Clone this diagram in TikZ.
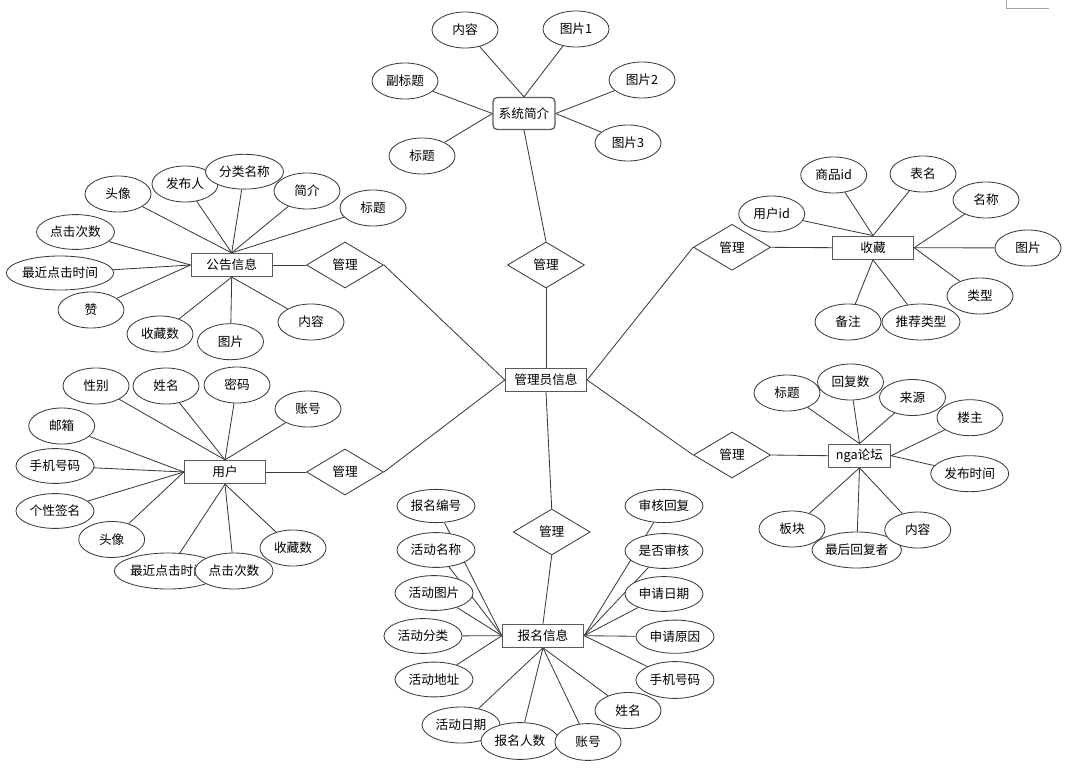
\documentclass[tikz,border=0pt]{standalone}
\usepackage{fontspec}
\usepackage{xcolor}
\usepackage{tikz}
\usetikzlibrary{shapes.geometric, backgrounds}
\newfontfamily\cjk{Noto Sans CJK SC}
\definecolor{linegray}{RGB}{60, 60, 60}
\definecolor{boxgray}{RGB}{90, 90, 90}
\definecolor{cropgray}{RGB}{165, 165, 165}
\tikzstyle{entity} = [
    rectangle,
    minimum width=2.025cm,
    minimum height=0.575cm,
    inner sep=1pt,
    draw=boxgray,
    line width=0.9pt,
    fill=white
]
\tikzstyle{attr} = [
    ellipse,
    minimum width=1.65cm,
    minimum height=0.9cm,
    inner sep=0pt,
    draw=linegray,
    line width=0.6pt,
    fill=white
]
\tikzstyle{attrwide} = [attr, minimum width=1.95cm, minimum height=0.87cm]
\tikzstyle{relation} = [
    diamond,
    minimum width=1.925cm,
    minimum height=1.15cm,
    inner sep=0pt,
    draw=linegray,
    line width=0.6pt,
    fill=white
]
\tikzstyle{link} = [draw=linegray, line width=0.6pt]

\begin{document}
\begin{tikzpicture}[x=0.025cm, y=-0.025cm, font=\cjk\fontsize{9}{11}\selectfont]
    \useasboundingbox (0,0) rectangle (1079,768);
    \draw[cropgray, line width=0.6pt] (1006,0) -- (1006,8.5) -- (1049,8.5);

    % Entities
    \node[entity] (admin) at (546,380) {管理员信息};
    \node[entity, rounded corners=3pt, minimum width=1.55cm, minimum height=0.8cm] (intro) at (524,113.5) {系统简介};
    \node[entity] (notice) at (231.7,265) {公告信息};
    \node[entity] (user) at (225,472) {用户};
    \node[entity] (fav) at (873,247.7) {收藏};
    \node[entity, minimum width=1.55cm] (forum) at (859.5,455.7) {nga论坛};
    \node[entity] (signup) at (543,635.7) {报名信息};

    % Relations
    \node[relation] (mgIntro) at (546,265) {管理};
    \node[relation] (mgNotice) at (345,265) {管理};
    \node[relation] (mgUser) at (345,472) {管理};
    \node[relation] (mgFav) at (732,247.3) {管理};
    \node[relation] (mgForum) at (732,455) {管理};
    \node[relation] (mgSignup) at (551.7,532) {管理};

    % Attributes: system intro
    \node[attr] (inContent) at (465,30) {内容};
    \node[attr] (inPic1) at (576,29) {图片1};
    \node[attr] (inSub) at (405,81) {副标题};
    \node[attr] (inPic2) at (642,80) {图片2};
    \node[attr] (inTitle) at (422,156) {标题};
    \node[attr] (inPic3) at (628,143) {图片3};

    % Attributes: notice
    \node[attr] (ntAvatar) at (118,194) {头像};
    \node[attr] (ntAuthor) at (185,184) {发布人};
    \node[attrwide] (ntCat) at (244.5,171.7) {分类名称};
    \node[attr] (ntBrief) at (307,191) {简介};
    \node[attr] (ntTitle) at (373,208) {标题};
    \node[attrwide] (ntClicks) at (75.5,232) {点击次数};
    \node[attr, minimum width=2.55cm, minimum height=0.85cm] (ntLast) at (60,273) {最近点击时间};
    \node[attr] (ntLike) at (91,310) {赞};
    \node[attr] (ntFavs) at (160,334) {收藏数};
    \node[attr] (ntPic) at (230.5,341.7) {图片};
    \node[attr] (ntContent) at (311,322) {内容};

    % Attributes: user
    \node[attr] (usSex) at (96,386) {性别};
    \node[attr] (usName) at (166,386) {姓名};
    \node[attr] (usPwd) at (237,385) {密码};
    \node[attr] (usAcc) at (308,409) {账号};
    \node[attr] (usMail) at (61.7,426) {邮箱};
    \node[attrwide] (usPhone) at (55,466) {手机号码};
    \node[attrwide] (usSign) at (55,511) {个性签名};
    \node[attr] (usAvatar) at (111.7,539.5) {头像};
    \node[attr, minimum width=2.55cm] (usLast) at (168,571) {最近点击时间};
    \node[attrwide, minimum height=0.9cm] (usClicks) at (234,571) {点击次数};
    \node[attr] (usFavs) at (293,548) {收藏数};

    % Attributes: favourites
    \node[attr] (fvUser) at (771.7,214) {用户id};
    \node[attr] (fvGoods) at (833.7,175) {商品id};
    \node[attr] (fvTable) at (923,174) {表名};
    \node[attr] (fvName) at (986,200) {名称};
    \node[attr] (fvPic) at (1028,248) {图片};
    \node[attr] (fvType) at (980,296) {类型};
    \node[attr] (fvNote) at (848,322) {备注};
    \node[attrwide, minimum height=0.9cm] (fvRec) at (921,322) {推荐类型};

    % Attributes: forum
    \node[attr] (fmTitle) at (787,393) {标题};
    \node[attr] (fmReplies) at (850.5,382) {回复数};
    \node[attr] (fmSource) at (912.5,397.5) {来源};
    \node[attr] (fmOwner) at (970,417.7) {楼主};
    \node[attrwide, minimum height=0.9cm] (fmTime) at (969.7,473.7) {发布时间};
    \node[attr] (fmBoard) at (792,529) {板块};
    \node[attr, minimum width=2.225cm] (fmLast) at (856.7,550) {最后回复者};
    \node[attr] (fmContent) at (917.7,530) {内容};

    % Attributes: sign-up
    \node[attrwide, minimum height=0.83cm] (suNo) at (436,506) {报名编号};
    \node[attrwide] (suName) at (436,550) {活动名称};
    \node[attrwide] (suPic) at (434,593) {活动图片};
    \node[attrwide] (suCat) at (423,636) {活动分类};
    \node[attrwide] (suAddr) at (434,679.5) {活动地址};
    \node[attrwide, minimum height=0.9cm] (suDate) at (461,725) {活动日期};
    \node[attrwide, minimum height=0.92cm] (suCount) at (520,741) {报名人数};
    \node[attr, minimum height=0.92cm] (suAcc) at (588,742) {账号};
    \node[attr] (suPerson) at (628,710.5) {姓名};
    \node[attrwide, minimum height=0.83cm] (suReply) at (664,506) {审核回复};
    \node[attrwide] (suChecked) at (664,551) {是否审核};
    \node[attrwide] (suApply) at (664,594) {申请日期};
    \node[attrwide, minimum height=0.83cm] (suReason) at (675,636.7) {申请原因};
    \node[attrwide, minimum height=0.92cm] (suPhone) at (675,680) {手机号码};

    % Lines
    \begin{scope}[on background layer]
        \draw[link] (admin.north) -- (mgIntro.south);
        \draw[link] (mgIntro.north) -- (intro.south);
        \draw[link] (admin.west) -- (mgNotice.east);
        \draw[link] (mgNotice.west) -- (notice.east);
        \draw[link] (admin.west) -- (mgUser.east);
        \draw[link] (mgUser.west) -- (user.east);
        \draw[link] (admin.east) -- (mgFav.west);
        \draw[link] (mgFav.east) -- (fav.west);
        \draw[link] (admin.east) -- (mgForum.west);
        \draw[link] (mgForum.east) -- (forum.west);
        \draw[link] (admin.south) -- (mgSignup.north);
        \draw[link] (mgSignup.south) -- (signup.north);

        \draw[link] (inContent) -- (intro.north);
        \draw[link] (inPic1) -- (intro.north);
        \draw[link] (inSub) -- (intro.west);
        \draw[link] (inTitle) -- (intro.west);
        \draw[link] (inPic2) -- (intro.east);
        \draw[link] (inPic3) -- (intro.east);

        \draw[link] (ntAvatar) -- (notice.north);
        \draw[link] (ntAuthor) -- (notice.north);
        \draw[link] (ntCat) -- (notice.north);
        \draw[link] (ntBrief) -- (notice.north);
        \draw[link] (ntTitle) -- (notice.north);
        \draw[link] (ntClicks) -- (notice.west);
        \draw[link] (ntLast) -- (notice.west);
        \draw[link] (ntLike) -- (notice.west);
        \draw[link] (ntFavs) -- (notice.south);
        \draw[link] (ntPic) -- (notice.south);
        \draw[link] (ntContent) -- (notice.south);

        \draw[link] (usSex) -- (user.north);
        \draw[link] (usName) -- (user.north);
        \draw[link] (usPwd) -- (user.north);
        \draw[link] (usAcc) -- (user.north);
        \draw[link] (usMail) -- (user.west);
        \draw[link] (usPhone) -- (user.west);
        \draw[link] (usSign) -- (user.west);
        \draw[link] (usAvatar) -- (user.west);
        \draw[link] (usLast) -- (user.south);
        \draw[link] (usClicks) -- (user.south);
        \draw[link] (usFavs) -- (user.south);

        \draw[link] (fvUser) -- (fav.north);
        \draw[link] (fvGoods) -- (fav.north);
        \draw[link] (fvTable) -- (fav.north);
        \draw[link] (fvName) -- (fav.east);
        \draw[link] (fvPic) -- (fav.east);
        \draw[link] (fvType) -- (fav.east);
        \draw[link] (fvNote) -- (fav.south);
        \draw[link] (fvRec) -- (fav.south);

        \draw[link] (fmTitle) -- (forum.north);
        \draw[link] (fmReplies) -- (forum.north);
        \draw[link] (fmSource) -- (forum.north);
        \draw[link] (fmOwner) -- (forum.east);
        \draw[link] (fmTime) -- (forum.east);
        \draw[link] (fmBoard) -- (forum.south);
        \draw[link] (fmLast) -- (forum.south);
        \draw[link] (fmContent) -- (forum.south);

        \draw[link] (suNo) -- (signup.west);
        \draw[link] (suName) -- (signup.west);
        \draw[link] (suPic) -- (signup.west);
        \draw[link] (suCat) -- (signup.west);
        \draw[link] (suAddr) -- (signup.west);
        \draw[link] (suDate) -- (signup.south);
        \draw[link] (suCount) -- (signup.south);
        \draw[link] (suAcc) -- (signup.south);
        \draw[link] (suPerson) -- (signup.south);
        \draw[link] (suReply) -- (signup.east);
        \draw[link] (suChecked) -- (signup.east);
        \draw[link] (suApply) -- (signup.east);
        \draw[link] (suReason) -- (signup.east);
        \draw[link] (suPhone) -- (signup.east);
    \end{scope}
\end{tikzpicture}
\end{document}
